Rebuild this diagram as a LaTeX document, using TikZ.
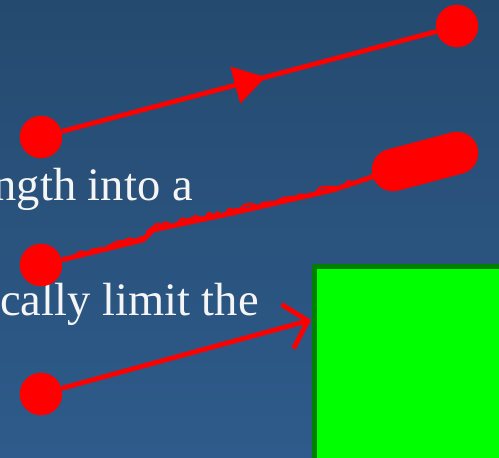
\documentclass[tikz,border=0pt]{standalone}
\usepackage{fontspec}
\setmainfont{Liberation Serif}
\usetikzlibrary{arrows.meta,decorations.markings,decorations.pathmorphing}
\definecolor{cbgtop}{RGB}{37,74,111}
\definecolor{cbgbot}{RGB}{46,91,139}
\definecolor{cdot}{HTML}{FF0000}
\definecolor{cbox}{HTML}{00FF00}
\definecolor{cboxedge}{HTML}{008000}
\def\yA{137}
\def\yB{265}
\def\yC{394}

\begin{document}
\begin{tikzpicture}[x=0.02cm, y=-0.02cm, line join=round,
                    dot/.style={circle, fill=cdot, inner sep=0pt,
                                minimum size=0.85cm},
                    wire/.style={cdot, line width=2.7pt},
                    words/.style={anchor=base east, inner sep=0pt,
                                  text=white!96!black,
                                  font=\fontsize{26.5}{30}\selectfont}]

% =================== slide background ===================
\useasboundingbox (0,0) rectangle (499,457);
\clip (0,0) rectangle (499,457);
\shade[top color=cbgtop, bottom color=cbgbot] (0,0) rectangle (499,457);

% body text, cut at the left edge
\node[words] (txta) at (193,200) {ngth into a};
\node[words] (txtb) at (259,315) {cally limit the};

% =================== top: line with a mid arrow ===================
\node[dot] (a1) at (41,\yA) {};
\node[dot] (a2) at (457,26) {};
\draw[wire, postaction={decorate},
      decoration={markings, mark=at position 0.545 with
        {\arrow{Triangle[length=18pt,width=21pt]}}}]
  (a1) -- (a2);

% =================== middle: rough stroke ending in a smear ===================
\pgfmathsetseed{7}
\node[dot] (b1) at (41,\yB) {};
\coordinate (b2) at (393,170);
\coordinate (b3) at (457,153);
\draw[wire] (b1) -- (143,240) -- (153,230) -- (233,213) -- (333,190) -- (b2);
\draw[cdot, line width=1.5pt, yshift=1.6pt, decorate,
      decoration={random steps, segment length=2.5pt, amplitude=1.4pt}]
  (b1) -- (143,240) -- (153,230) -- (233,213) -- (333,190) -- (b2);
\draw[cdot, line width=0.85cm, line cap=round] (b2) -- (b3);

% =================== bottom: line into the box ===================
\node[draw=cboxedge, fill=cbox, line width=2.8pt, anchor=north west,
      minimum width=4.5cm, minimum height=4cm] (box) at (312,264) {};
\node[dot] (c1) at (41,\yC) {};
\coordinate (hit) at (311,320);
\draw[wire, -{Straight Barb[length=12pt,width=26pt]}] (c1) -- (hit);

\end{tikzpicture}
\end{document}
